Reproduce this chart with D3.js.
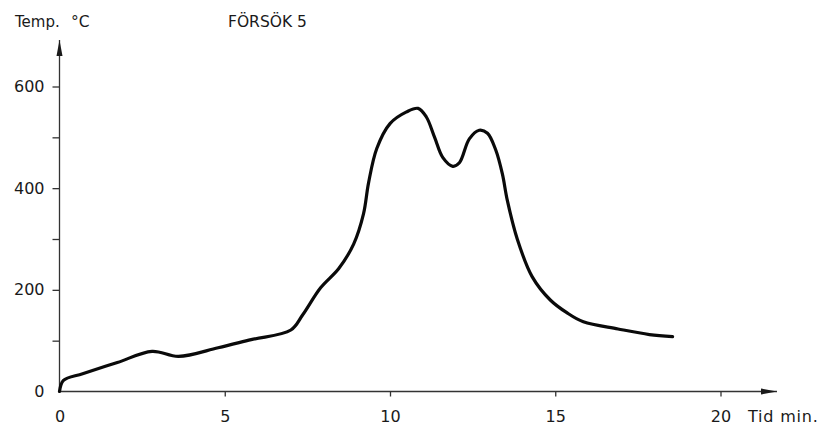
<!DOCTYPE html>
<html>
<head>
<meta charset="utf-8">
<script src="https://cdn.jsdelivr.net/npm/d3@7"></script>
<style>
  body { margin: 0; background: #fff; }
  svg text { font-family: "DejaVu Sans", sans-serif; fill: #1a1a1a; }
</style>
</head>
<body>
<svg id="chart"></svg>
<script>
(function (d3) {
  "use strict";

  /***** Data *****/
  // time in minutes, temperature in deg C
  var minutes = [0, 0.12, 0.7, 1.75, 2.8, 3.6, 4.8, 5.8, 7.0, 7.35, 7.9, 8.45, 8.9, 9.2, 9.35, 9.6,
    10.0, 10.5, 10.85, 11.1, 11.35, 11.6, 11.9, 12.1, 12.4, 12.7, 12.95, 13.2, 13.4, 13.55, 13.85,
    14.3, 14.85, 15.35, 15.85, 16.9, 17.85, 18.55];
  var temps = [0, 22, 35, 57, 79, 69, 86, 102, 121, 150, 204, 242, 290, 350, 410, 478,
    527, 550, 557, 540, 500, 460, 443, 450, 497, 514, 508, 475, 428, 376, 300,
    226, 180, 155, 137, 123, 112, 108];
  var xTicks = [0, 5, 10, 15, 20];
  var yTicks = [0, 100, 200, 300, 400, 500, 600];
  var yLabelled = [0, 200, 400, 600];

  /***** Configuration *****/
  var width = 825, height = 428;
  var x0 = 59.5, y0 = 391.5;

  var svg = d3.select("#chart").attr("width", width).attr("height", height);

  /***** Scales *****/
  var x = d3.scaleLinear().domain([0, 20]).range([x0, 720.5]);
  var y = d3.scaleLinear().domain([0, 600]).range([y0, 86.5]);

  /***** Arrow heads *****/
  var defs = svg.append("defs");
  defs.append("marker")
    .attr("id", "arrow")
    .attr("viewBox", "0 0 16 8")
    .attr("refX", 16).attr("refY", 4)
    .attr("markerWidth", 16).attr("markerHeight", 8)
    .attr("markerUnits", "userSpaceOnUse")
    .attr("orient", "auto")
    .append("path")
    .attr("d", "M0,1 L16,4 L0,7 Z")
    .attr("fill", "#1a1a1a");

  /***** Axes lines *****/
  svg.append("line")
    .attr("x1", x0).attr("y1", y0).attr("x2", x0).attr("y2", 40)
    .attr("stroke", "#333").attr("stroke-width", 1.3)
    .attr("marker-end", "url(#arrow)");
  svg.append("line")
    .attr("x1", x0).attr("y1", y0).attr("x2", 777).attr("y2", y0)
    .attr("stroke", "#333").attr("stroke-width", 1.3)
    .attr("marker-end", "url(#arrow)");

  // y axis ticks and labels
  var yAxis = d3.axisLeft(y)
    .tickValues(yTicks)
    .tickSize(7)
    .tickPadding(8)
    .tickSizeOuter(0)
    .tickFormat(function (d) { return yLabelled.indexOf(d) >= 0 ? d : ""; });
  var yG = svg.append("g").attr("transform", "translate(" + x0 + ",0)").call(yAxis);
  yG.select(".domain").remove();
  yG.selectAll(".tick line").attr("stroke", "#333").attr("stroke-width", 1.3)
    .filter(function (d) { return d === 0; }).remove();
  yG.selectAll(".tick text").attr("font-size", 16).attr("fill", "#1a1a1a")
    .attr("font-family", "DejaVu Sans, sans-serif");

  // x axis ticks and labels
  var xAxis = d3.axisBottom(x)
    .tickValues(xTicks)
    .tickSize(5)
    .tickSizeOuter(0)
    .tickFormat(d3.format("d"));
  var xG = svg.append("g").attr("transform", "translate(0," + y0 + ")").call(xAxis);
  xG.select(".domain").remove();
  xG.selectAll(".tick line").attr("stroke", "#333").attr("stroke-width", 1.3)
    .filter(function (d) { return d === 0; }).remove();
  xG.selectAll(".tick text").attr("font-size", 16).attr("fill", "#1a1a1a")
    .attr("font-family", "DejaVu Sans, sans-serif")
    .attr("y", 30).attr("dy", 0);

  /***** Titles *****/
  svg.append("text").attr("x", 15).attr("y", 27).attr("font-size", 15)
    .text("Temp.");
  svg.append("text").attr("x", 71).attr("y", 27).attr("font-size", 15.5)
    .text("°C");
  svg.append("text").attr("x", 228).attr("y", 27).attr("font-size", 15.5)
    .text("FÖRSÖK 5");
  svg.append("text").attr("x", 748).attr("y", 422).attr("font-size", 16)
    .attr("letter-spacing", 0.8)
    .text("Tid min.");

  /***** Curve *****/
  var points = minutes.map(function (m, i) { return [m, temps[i]]; });
  var line = d3.line()
    .x(function (d) { return x(d[0]); })
    .y(function (d) { return y(d[1]); })
    .curve(d3.curveCatmullRom.alpha(0.5));

  svg.append("path")
    .datum(points)
    .attr("d", line)
    .attr("fill", "none")
    .attr("stroke", "#0a0a0a")
    .attr("stroke-width", 3.2)
    .attr("stroke-linejoin", "round")
    .attr("stroke-linecap", "round");

})(d3);
</script>
</body>
</html>
